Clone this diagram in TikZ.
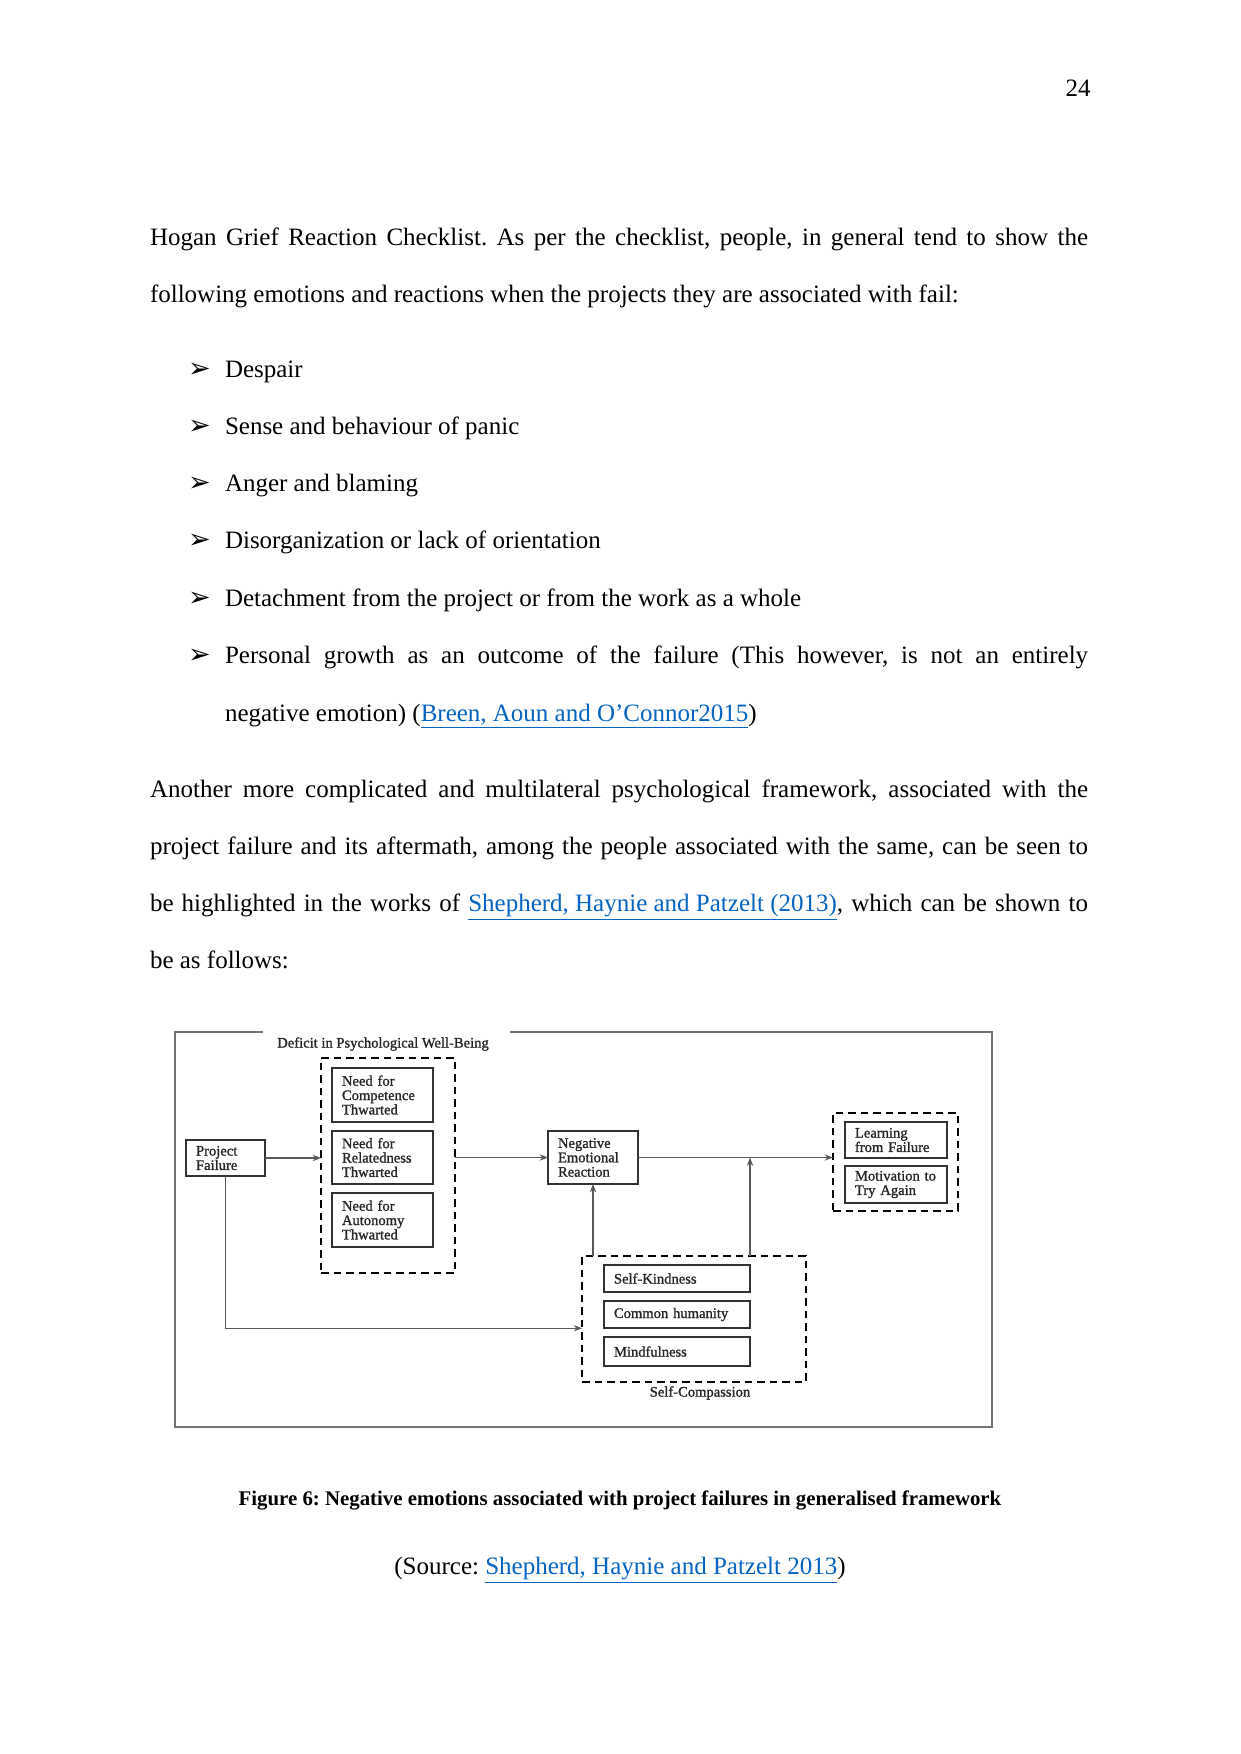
\documentclass[tikz,border=0pt]{standalone}
\usepackage{fontspec}
\setmainfont{Liberation Serif}
\newfontfamily\symfont{DejaVu Sans}
\newfontfamily\diagfont[FakeBold=1.2]{Liberation Serif}
\usetikzlibrary{arrows.meta}
\definecolor{linkblue}{HTML}{0563C1}
\newcommand{\lnk}[1]{\textcolor{linkblue}{\underline{#1}}}
\newcommand{\jline}[2]{\makebox[#1][s]{#2}}
\frenchspacing
\begin{document}
\begin{tikzpicture}[x=0.48pt,y=-0.48pt,
  body/.style={anchor=base west, inner sep=0pt, outer sep=0pt, font=\fontsize{12pt}{14pt}\selectfont},
  bul/.style={anchor=base west, inner sep=0pt, outer sep=0pt, font=\symfont\fontsize{13pt}{15pt}\selectfont},
  box/.style={draw=black!80, line width=0.9pt, align=left, inner xsep=4.8pt, inner ysep=0pt, outer sep=0pt,
              font=\diagfont\fontsize{7pt}{6.9pt}\selectfont, text=black!85},
  dbox/.style={draw=black, line width=0.8pt, dash pattern=on 3.6pt off 2.4pt, inner sep=0pt, outer sep=0pt},
  lbl/.style={inner sep=0pt, font=\diagfont\fontsize{7pt}{8pt}\selectfont, text=black!85},
  conn/.style={draw=black!65, line width=0.6pt, -{Stealth[length=4pt,width=3pt]}}
]
\useasboundingbox (0,0) rectangle (1241,1754);
\fill[white] (0,0) rectangle (1241,1754);

% page number
\node[anchor=base east, inner sep=0pt, font=\fontsize{12pt}{14pt}\selectfont] (pg) at (1091,96) {24};

% first paragraph
\node[body] (p1a) at (150,245) {\jline{450.24pt}{Hogan Grief Reaction Checklist. As per the checklist, people, in general tend to show the}};
\node[body] (p1b) at (150,302) {following emotions and reactions when the projects they are associated with fail:};

% bullets
\node[bul] (b1) at (188,377) {➢};
\node[body] (t1) at (225,377) {Despair};
\node[bul] (b2) at (188,434) {➢};
\node[body] (t2) at (225,434) {Sense and behaviour of panic};
\node[bul] (b3) at (188,491) {➢};
\node[body] (t3) at (225,491) {Anger and blaming};
\node[bul] (b4) at (188,548) {➢};
\node[body] (t4) at (225,548) {Disorganization or lack of orientation};
\node[bul] (b5) at (188,606) {➢};
\node[body] (t5) at (225,606) {Detachment from the project or from the work as a whole};
\node[bul] (b6) at (188,663) {➢};
\node[body] (t6) at (225,663) {\jline{414.3pt}{Personal growth as an outcome of the failure (This however, is not an entirely}};
\node[body] (t6b) at (225,721) {negative emotion) (\lnk{Breen, Aoun and O’Connor2015})};

% second paragraph
\node[body] (p2a) at (150,797) {\jline{450.24pt}{Another more complicated and multilateral psychological framework, associated with the}};
\node[body] (p2b) at (150,854) {\jline{450.24pt}{project failure and its aftermath, among the people associated with the same, can be seen to}};
\node[body] (p2c) at (150,911) {\jline{450.24pt}{be highlighted in the works of \lnk{Shepherd, Haynie and Patzelt (2013)}, which can be shown to}};
\node[body] (p2d) at (150,968) {be as follows:};

% ===== diagram =====
\node[draw=black!55, line width=1pt, inner sep=0pt, outer sep=0pt, minimum width=392.2pt, minimum height=189.6pt] (frame) at (583.5,1229.5) {};
\fill[white] (263,1029) rectangle (510,1036);
\node[lbl] (title) at (383,1044) {Deficit in Psychological Well-Being};

% dashed groups
\node[dbox, minimum width=64.3pt, minimum height=103.2pt] (d1) at (388,1165.5) {};
\node[dbox, minimum width=60pt, minimum height=47pt] (d2) at (895.5,1162) {};
\node[dbox, minimum width=107.5pt, minimum height=60.5pt] (d3) at (694,1319) {};

% boxes
\node[box, text width=28.3pt, minimum height=17.3pt] (pf) at (225.5,1158) {Project\\Failure};
\node[box, text width=38.9pt, minimum height=25.7pt] (comp) at (382.5,1095) {Need for\\Competence\\Thwarted};
\node[box, text width=38.9pt, minimum height=25.7pt] (rel) at (382.5,1157.5) {Need for\\Relatedness\\Thwarted};
\node[box, text width=38.9pt, minimum height=25.7pt] (aut) at (382.5,1220) {Need for\\Autonomy\\Thwarted};
\node[box, text width=33.6pt, minimum height=25.4pt] (neg) at (593,1157.5) {Negative\\Emotional\\Reaction};
\node[box, text width=39.4pt, minimum height=17.5pt] (learn) at (896,1140) {Learning\\from Failure};
\node[box, text width=39.4pt, minimum height=17.5pt] (motiv) at (896,1184.5) {Motivation to\\Try Again};
\node[box, text width=60.5pt, minimum height=13.2pt] (sk) at (677,1278.5) {Self-Kindness};
\node[box, text width=60.5pt, minimum height=13.2pt] (ch) at (677,1314.5) {Common humanity};
\node[box, text width=60.5pt, minimum height=13.6pt] (mf) at (677,1351.5) {Mindfulness};
\node[lbl] (sclbl) at (700,1393) {Self-Compassion};

% connectors
\draw[conn] (pf.east) -- (pf.east -| d1.west);
\draw[conn] (neg.west -| d1.east) -- (neg.west);
\draw[conn] (neg.east) -- (neg.east -| d2.west);
\draw[conn] (d3.north -| neg.south) -- (neg.south);
\draw[conn] (d3.north -| sk.east) -- (neg.east -| sk.east);
\draw[conn] (pf.south) |- (ch.south -| d3.west);

% caption
\node[anchor=base, inner sep=0pt, font=\bfseries\fontsize{10pt}{12pt}\selectfont] (cap) at (620,1505) {Figure 6: Negative emotions associated with project failures in generalised framework};
\node[anchor=base, inner sep=0pt, font=\fontsize{12pt}{14pt}\selectfont] (src) at (620,1574) {(Source: \lnk{Shepherd, Haynie and Patzelt 2013})};
\end{tikzpicture}
\end{document}
